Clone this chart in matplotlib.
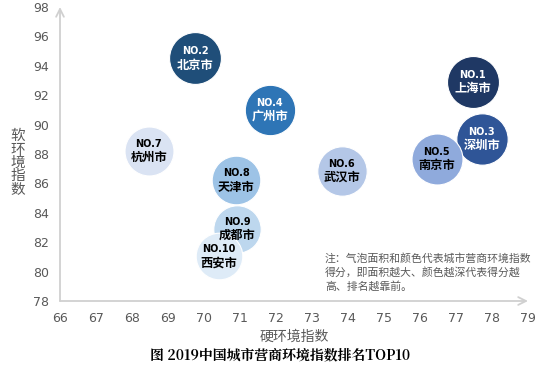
import matplotlib
matplotlib.use('Agg')
import matplotlib.pyplot as plt

plt.rcParams['font.family'] = ['Noto Sans CJK SC', 'DejaVu Sans']

ranks = ['NO.1', 'NO.2', 'NO.3', 'NO.4', 'NO.5', 'NO.6', 'NO.7', 'NO.8', 'NO.9', 'NO.10']
cities = ['上海市', '北京市', '深圳市', '广州市', '南京市', '武汉市', '杭州市', '天津市', '成都市', '西安市']
hard = [77.47, 69.75, 77.72, 71.83, 76.47, 73.83, 68.47, 70.9, 70.92, 70.42]
soft = [92.9, 94.5, 89.0, 91.0, 87.66, 86.84, 88.2, 86.2, 82.9, 81.06]
score = [85.2, 85.0, 84.2, 82.6, 83.6, 81.0, 80.3, 79.7, 77.7, 76.4]

colors = ['#1f3864', '#1f4e79', '#2f5597', '#2e75b6', '#8faadc',
          '#b4c7e7', '#dae3f3', '#9dc3e6', '#bdd7ee', '#deebf7']
txt_colors = ['white'] * 4 + ['black'] * 6

fig = plt.figure(figsize=(5.54, 3.70), dpi=100)
ax = fig.add_axes([60 / 554, 1 - 301 / 370, 468 / 554, 294 / 370])

# bubble diameter in points from score
sizes = [(2 * s * 0.305 * 0.72) ** 2 for s in score]
for i in range(len(cities)):
    ax.scatter(hard[i], soft[i], s=sizes[i], color=colors[i],
               edgecolors='white', linewidths=0.8, zorder=3 + i)
    ax.text(hard[i], soft[i] + 0.5, ranks[i], ha='center', va='center',
            fontsize=7, fontweight='bold', color=txt_colors[i],
            family='DejaVu Sans', zorder=20)
    ax.text(hard[i], soft[i] - 0.45, cities[i], ha='center', va='center',
            fontsize=8.8, fontweight='bold', color=txt_colors[i], zorder=20)

ax.set_xlim(66, 79)
ax.set_ylim(78, 98)
ax.set_xticks(range(66, 80))
ax.set_yticks(range(78, 99, 2))
for sp in ax.spines.values():
    sp.set_visible(False)
ax.tick_params(length=0, labelsize=9, colors='#595959', pad=8)
for lab in ax.get_xticklabels() + ax.get_yticklabels():
    lab.set_family('DejaVu Sans')

# axes with open arrows
ax.annotate('', xy=(79, 78), xytext=(66, 78),
            arrowprops=dict(arrowstyle='->', color='#d0d0d0', lw=1.3,
                            mutation_scale=14, shrinkA=0, shrinkB=0),
            annotation_clip=False)
ax.annotate('', xy=(66, 98), xytext=(66, 78),
            arrowprops=dict(arrowstyle='->', color='#d0d0d0', lw=1.3,
                            mutation_scale=14, shrinkA=0, shrinkB=0),
            annotation_clip=False)

fig.text(18 / 554, 1 - 163 / 370, '\n'.join('软环境指数'), ha='center', va='center',
         fontsize=10.5, color='#595959', linespacing=0.95)
fig.text(294 / 554, 1 - 337 / 370, '硬环境指数', ha='center', va='center',
         fontsize=10, color='#595959')
fig.text(280 / 554, 1 - 355 / 370, '图 2019中国城市营商环境指数排名TOP10',
         ha='center', va='center', fontsize=10, fontweight='bold',
         family=['Noto Serif CJK SC', 'Noto Sans CJK SC', 'DejaVu Serif'])
fig.text(325 / 554, 1 - 253 / 370,
         '注：气泡面积和颜色代表城市营商环境指数\n得分，即面积越大、颜色越深代表得分越\n高、排名越靠前。',
         ha='left', va='top', fontsize=7.8, color='#595959', linespacing=1.35)

fig.savefig('out.png', dpi=100)
